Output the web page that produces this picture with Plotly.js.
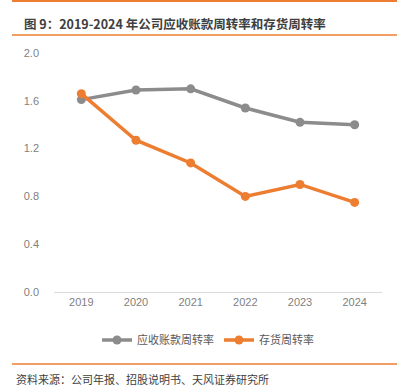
<!DOCTYPE html>
<html>
<head>
<meta charset="utf-8">
<script src="https://cdn.plot.ly/plotly-3.0.1.min.js"></script>
<style>html,body{margin:0;padding:0;background:#fff;}#chart{width:402px;height:392px;}</style>
</head>
<body>
<div id="chart"></div>
<script>
const years = ['2019', '2020', '2021', '2022', '2023', '2024'];
const receivableTurnover = [1.61, 1.69, 1.70, 1.54, 1.42, 1.40];
const inventoryTurnover = [1.66, 1.27, 1.08, 0.80, 0.90, 0.75];
const seriesNames = ['应收账款周转率', '存货周转率'];
const yTicks = [0, 0.4, 0.8, 1.2, 1.6, 2.0];
const yTickText = ['0.0', '0.4', '0.8', '1.2', '1.6', '2.0'];

const FONT = '"Noto Sans CJK SC", "Noto Sans", sans-serif';
const L = 54, T = 53, W = 328, H = 239;
const px = x => (x - L) / W;
const py = y => (T + H - y) / H;

const traces = [
  {x: years, y: receivableTurnover, name: seriesNames[0], type: 'scatter', mode: 'lines+markers',
   line: {color: '#8C8C8C', width: 3.5}, marker: {color: '#8C8C8C', size: 9}},
  {x: years, y: inventoryTurnover, name: seriesNames[1], type: 'scatter', mode: 'lines+markers',
   line: {color: '#ED7D31', width: 3.5}, marker: {color: '#ED7D31', size: 9}}
];

const layout = {
  width: 402, height: 392,
  margin: {l: L, r: 402 - L - W, t: T, b: 392 - T - H},
  paper_bgcolor: '#fff', plot_bgcolor: '#fff',
  font: {family: FONT, color: '#595959', size: 11},
  showlegend: true,
  legend: {orientation: 'h', x: px(208), xanchor: 'center', y: py(340), yanchor: 'middle',
           font: {size: 11, color: '#595959'}, itemwidth: 30, traceorder: 'normal'},
  xaxis: {type: 'category', range: [-0.5, 5.5], showgrid: false, zeroline: false,
          showline: true, linecolor: '#D9D9D9', linewidth: 1, ticks: '',
          tickfont: {family: 'Liberation Sans, Arial, sans-serif', size: 11, color: '#7F7F7F'}, fixedrange: true},
  yaxis: {range: [0, 2.0], tickvals: yTicks, ticktext: yTickText, showgrid: false, zeroline: false,
          showline: false, ticks: '', ticklabelstandoff: 14,
          tickfont: {family: 'Liberation Sans, Arial, sans-serif', size: 11, color: '#7F7F7F'}, fixedrange: true},
  shapes: [
    {type: 'line', xref: 'paper', yref: 'paper', x0: px(12), x1: px(397), y0: py(1), y1: py(1), line: {color: '#ED7D31', width: 2}},
    {type: 'line', xref: 'paper', yref: 'paper', x0: px(12), x1: px(397), y0: py(35), y1: py(35), line: {color: '#ED7D31', width: 1.5}},
    {type: 'line', xref: 'paper', yref: 'paper', x0: px(12), x1: px(397), y0: py(364), y1: py(364), line: {color: '#ED7D31', width: 1.5}}
  ],
  annotations: [
    {xref: 'paper', yref: 'paper', x: px(22), y: py(23), xanchor: 'left', yanchor: 'middle', showarrow: false,
     text: '<b>图 9：2019-2024 年公司应收账款周转率和存货周转率</b>', font: {family: FONT, size: 12.5, color: '#404040'}},
    {xref: 'paper', yref: 'paper', x: px(14), y: py(379), xanchor: 'left', yanchor: 'middle', showarrow: false,
     text: '资料来源：公司年报、招股说明书、天风证券研究所', font: {family: FONT, size: 11, color: '#404040'}}
  ]
};

Plotly.newPlot('chart', traces, layout, {displayModeBar: false, staticPlot: true});
</script>
</body>
</html>
